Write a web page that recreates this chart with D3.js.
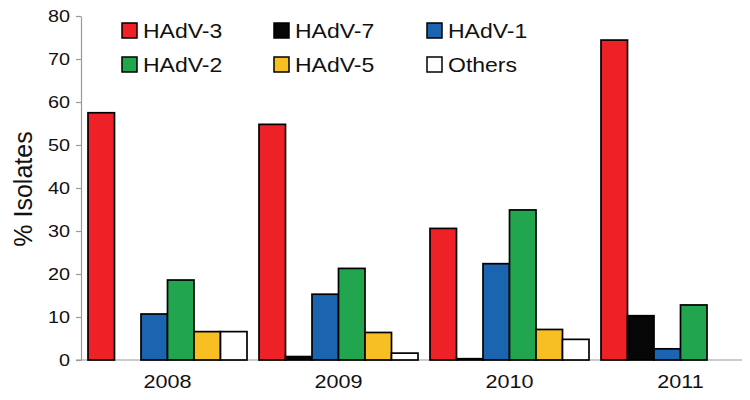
<!DOCTYPE html>
<html>
<head>
<meta charset="utf-8">
<script src="https://cdn.jsdelivr.net/npm/d3@7/dist/d3.min.js"></script>
<style>
  html, body { margin: 0; padding: 0; background: #fff; }
  text { font-family: "Liberation Sans", Arial, Helvetica, sans-serif; fill: #111; }
</style>
</head>
<body>
<svg id="chart" width="750" height="400"></svg>
<script>
const years = ["2008", "2009", "2010", "2011"];
const types = ["HAdV-3", "HAdV-7", "HAdV-1", "HAdV-2", "HAdV-5", "Others"];
const hadv3 = [57.5, 54.8, 30.6, 74.4];
const hadv7 = [0, 0.8, 0.3, 10.3];
const hadv1 = [10.7, 15.3, 22.4, 2.6];
const hadv2 = [18.6, 21.3, 34.9, 12.8];
const hadv5 = [6.6, 6.4, 7.1, 0];
const others = [6.6, 1.6, 4.8, 0];
const yTicks = [0, 10, 20, 30, 40, 50, 60, 70, 80];
const colors = ["#ee2226", "#060606", "#1b64b0", "#22a54f", "#f8bf22", "#ffffff"];

const seriesValues = [hadv3, hadv7, hadv1, hadv2, hadv5, others];
const rows = [];
years.forEach((yr, i) => {
  types.forEach((t, j) => {
    rows.push({ year: yr, type: t, value: seriesValues[j][i], color: colors[j] });
  });
});

const svg = d3.select("#chart");

const x0 = d3.scaleBand().domain(years).range([88, 760]).paddingInner(0.0702).paddingOuter(0);
const x1 = d3.scaleBand().domain(types).range([0, x0.bandwidth()]);
const y = d3.scaleLinear().domain([0, 80]).range([360, 16]);

// y axis
const yAxis = svg.append("g")
  .attr("transform", "translate(81,0)")
  .call(d3.axisLeft(y).tickValues(yTicks).tickSize(5).tickSizeOuter(0));
yAxis.select(".domain").attr("stroke", "#999").attr("stroke-width", 1.2);
yAxis.selectAll(".tick line").attr("stroke", "#999").attr("stroke-width", 1.2);
yAxis.selectAll(".tick text")
  .attr("x", 0)
  .attr("dy", "0.36em")
  .attr("transform", "translate(-11,0) scale(1.2,1)")
  .style("font-size", "16.5px")
  .style("font-family", "'Liberation Sans', Arial, sans-serif")
  .attr("fill", "#111");

// x baseline
svg.append("line")
  .attr("x1", 76).attr("x2", 742)
  .attr("y1", y(0)).attr("y2", y(0))
  .attr("stroke", "#999").attr("stroke-width", 1.2);

// x axis labels
const xAxis = svg.append("g")
  .attr("transform", `translate(0,${y(0)})`)
  .call(d3.axisBottom(x0).tickSize(0));
xAxis.select(".domain").remove();
xAxis.selectAll(".tick text")
  .attr("y", 0)
  .attr("dy", 0)
  .attr("transform", "translate(0,28) scale(1.2,1)")
  .style("font-size", "18px")
  .style("font-family", "'Liberation Sans', Arial, sans-serif")
  .attr("fill", "#111");

// bars
svg.append("g").selectAll("rect")
  .data(rows.filter(d => d.value > 0))
  .join("rect")
  .attr("x", d => x0(d.year) + x1(d.type))
  .attr("y", d => y(d.value))
  .attr("width", x1.bandwidth())
  .attr("height", d => y(0) - y(d.value))
  .attr("fill", d => d.color)
  .attr("stroke", "#000")
  .attr("stroke-width", 1.7);

// y label
svg.append("text")
  .attr("transform", "translate(32,189) rotate(-90)")
  .attr("text-anchor", "middle")
  .style("font-size", "25px")
  .text("% Isolates");

// legend
const legX = [122, 274, 427];
const legY = [23, 57];
const legOrder = [0, 1, 2, 3, 4, 5];
const leg = svg.append("g").selectAll("g")
  .data(legOrder)
  .join("g")
  .attr("transform", (d, i) => `translate(${legX[i % 3]},${legY[Math.floor(i / 3)]})`);
leg.append("rect")
  .attr("width", 15).attr("height", 15)
  .attr("fill", d => colors[d])
  .attr("stroke", "#000").attr("stroke-width", 1.5);
leg.append("text")
  .attr("transform", "translate(21,15) scale(1.15,1)")
  .style("font-size", "20px")
  .text(d => types[d]);
</script>
</body>
</html>
